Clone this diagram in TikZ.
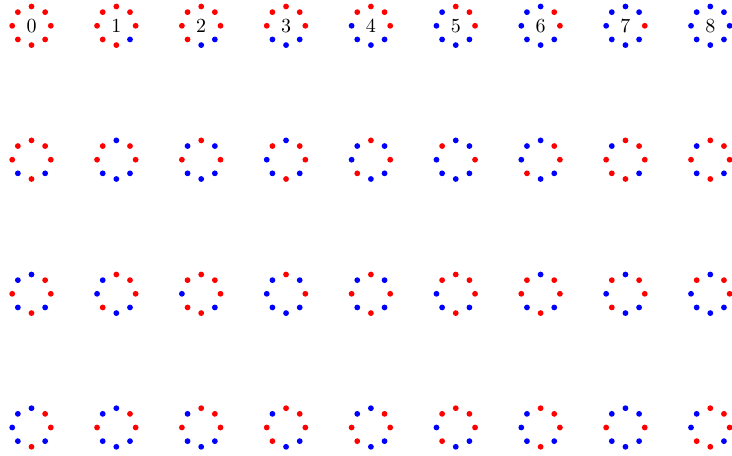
\documentclass[tikz,border=0pt]{standalone}
% one row of rings: #1 row, #2 height, #3 colour lists (E first, counter-clockwise)
\newcommand\ringrow[3]{%
  \foreach \c/\pat in {#3} {
    \coordinate (c#1\c) at ({31.5+84.85*\c},#2);
    \foreach \s [count=\k from 0] in \pat
      \node[\s] (d#1\c\k) at ([shift={(\k*45:19.3)}]c#1\c) {};
  }}
\begin{document}
\begin{tikzpicture}[x=0.5pt,y=0.5pt,
  dot/.style={circle,inner sep=0pt,minimum size=2.9pt},
  rd/.style={dot,fill=red},bl/.style={dot,fill=blue}]
  \useasboundingbox (0,0) rectangle (732,455);
  \ringrow{0}{429.2}{0/{rd,rd,rd,rd,rd,rd,rd,rd},1/{rd,rd,rd,rd,rd,rd,rd,bl},%
    2/{rd,rd,rd,rd,rd,rd,bl,bl},3/{rd,rd,rd,rd,rd,bl,bl,bl},%
    4/{rd,rd,rd,rd,bl,bl,bl,bl},5/{rd,rd,rd,bl,bl,bl,bl,bl},%
    6/{rd,rd,bl,bl,bl,bl,bl,bl},7/{rd,bl,bl,bl,bl,bl,bl,bl},%
    8/{bl,bl,bl,bl,bl,bl,bl,bl}}
  \ringrow{1}{295.3}{0/{rd,rd,rd,rd,rd,bl,rd,bl},1/{rd,rd,bl,rd,rd,bl,bl,bl},%
    2/{rd,bl,rd,bl,rd,bl,bl,bl},3/{rd,rd,bl,rd,bl,bl,rd,bl},%
    4/{rd,bl,rd,bl,bl,rd,bl,bl},5/{rd,bl,bl,rd,bl,bl,bl,bl},%
    6/{rd,rd,bl,bl,bl,rd,bl,bl},7/{rd,rd,rd,bl,rd,rd,rd,bl},%
    8/{rd,rd,rd,bl,rd,bl,rd,bl}}
  \ringrow{2}{161.2}{0/{rd,rd,bl,bl,rd,bl,rd,bl},1/{rd,rd,rd,bl,bl,rd,bl,bl},%
    2/{rd,rd,rd,rd,bl,rd,rd,bl},3/{rd,bl,rd,bl,bl,bl,bl,bl},%
    4/{rd,bl,rd,bl,rd,bl,rd,bl},5/{rd,rd,rd,rd,bl,bl,rd,bl},%
    6/{rd,rd,bl,rd,rd,bl,rd,bl},7/{rd,rd,bl,rd,bl,rd,bl,bl},%
    8/{rd,rd,bl,rd,bl,bl,bl,bl}}
  \ringrow{3}{27.5}{0/{rd,rd,bl,bl,bl,bl,rd,bl},1/{rd,rd,bl,bl,rd,bl,bl,bl},%
    2/{rd,rd,rd,bl,rd,bl,bl,bl},3/{rd,rd,rd,bl,rd,rd,bl,bl},%
    4/{rd,rd,bl,bl,rd,rd,bl,bl},5/{rd,rd,rd,rd,bl,rd,bl,bl},%
    6/{rd,rd,rd,bl,bl,bl,rd,bl},7/{rd,bl,bl,bl,rd,bl,bl,bl},%
    8/{rd,rd,rd,bl,bl,rd,rd,bl}}
  \foreach \c in {0,...,8} \node (n\c) at (c0\c) {\c};
\end{tikzpicture}
\end{document}
